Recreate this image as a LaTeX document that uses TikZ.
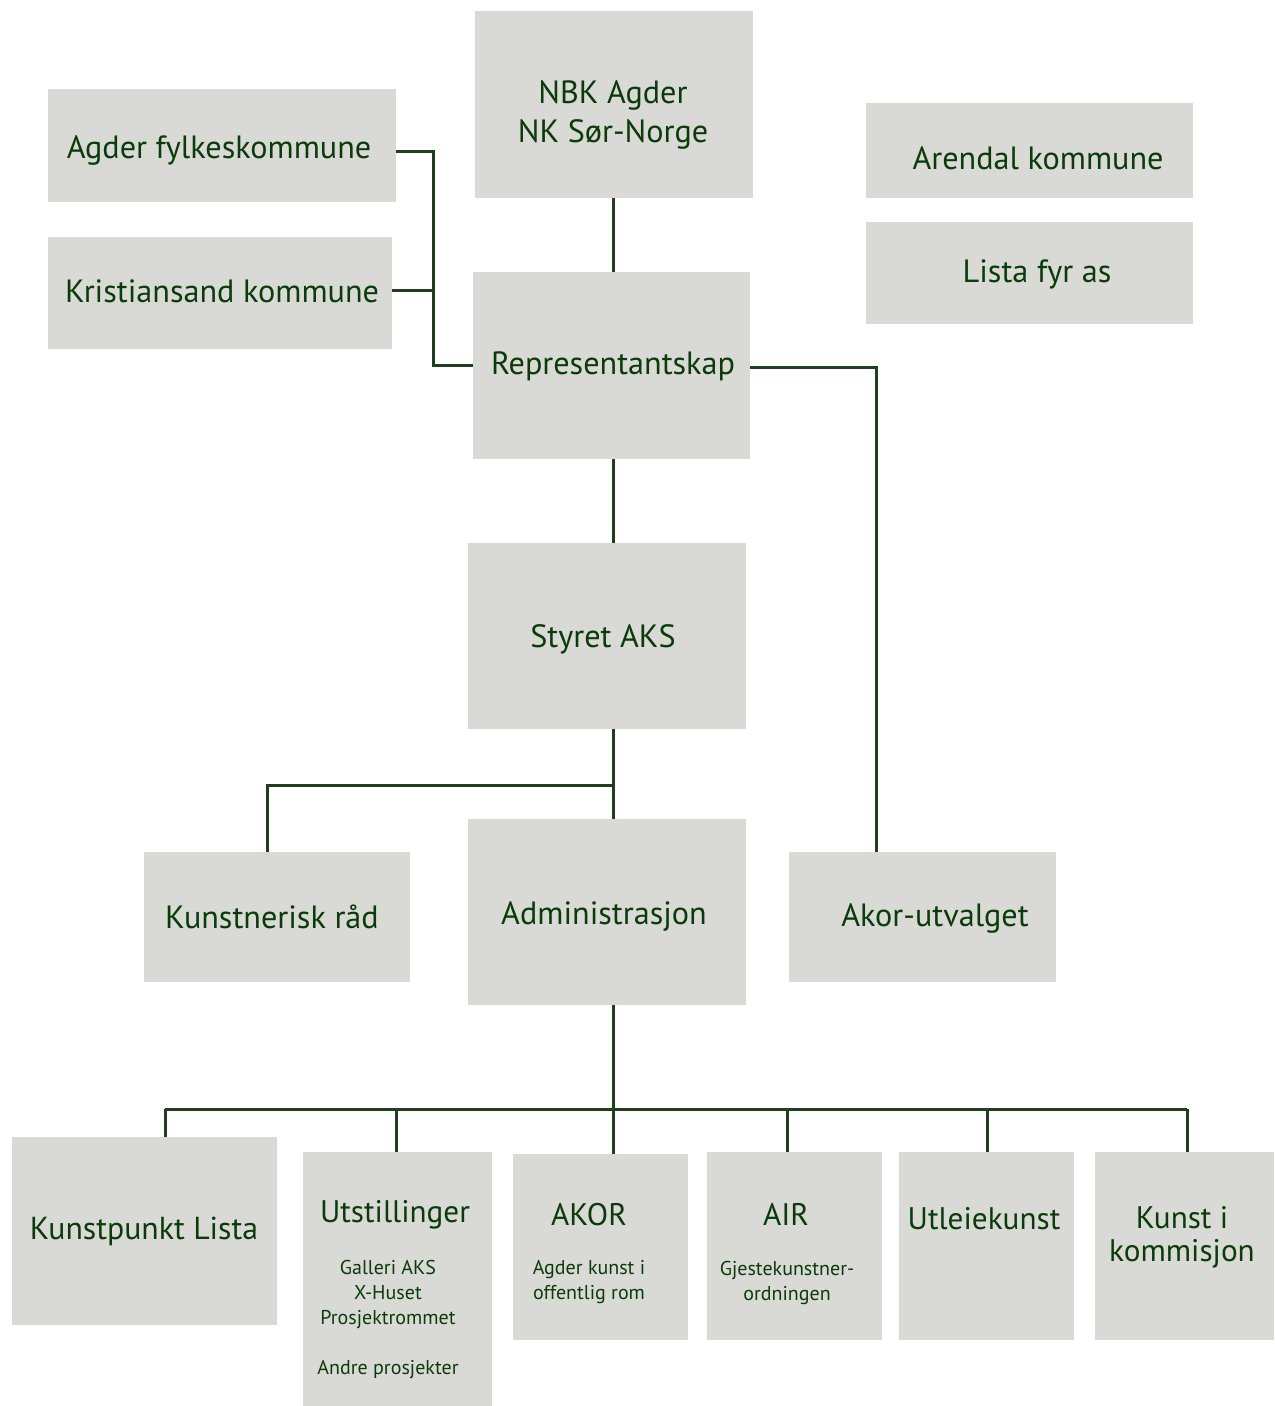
\documentclass[tikz,border=0pt]{standalone}
\usepackage{fontspec}
\setmainfont{PT Sans}
\definecolor{boxgray}{HTML}{D9DAD5}
\definecolor{txtgreen}{HTML}{0B3B0B}
\definecolor{linegreen}{HTML}{1F3F1F}
\tikzset{>=latex}
\tikzset{box/.style={fill=boxgray, inner sep=0pt, outer sep=0pt},
  link/.style={color=linegreen, line width=1.5pt},
  lbl/.style={text=txtgreen, font=\fontsize{16.1}{19.5}\selectfont, align=center, yshift=-1.75pt},
  title/.style={text=txtgreen, font=\fontsize{15.6}{16.5}\selectfont, align=center, yshift=-0.75pt},
  sub/.style={text=txtgreen, font=\fontsize{10}{12.5}\selectfont, align=center, yshift=-1pt}}

\begin{document}
\begin{tikzpicture}[x=0.5pt,y=-0.5pt]
\useasboundingbox (0,0) rectangle (1274,1406);

\node[box, minimum width=139pt, minimum height=93.5pt] (nbk) at (614,104.5) {};
\node[box, minimum width=174pt, minimum height=56.5pt] (agder) at (222,145.5) {};
\node[box, minimum width=172pt, minimum height=56pt] (krist) at (220,293) {};
\node[box, minimum width=163.5pt, minimum height=47.5pt] (arendal) at (1029.5,150.5) {};
\node[box, minimum width=163.5pt, minimum height=51pt] (lista) at (1029.5,273) {};
\node[box, minimum width=138.5pt, minimum height=93.5pt] (rep) at (611.5,365.5) {};
\node[box, minimum width=139pt, minimum height=93pt] (styret) at (607,636) {};
\node[box, minimum width=133pt, minimum height=65pt] (kunstner) at (277,917) {};
\node[box, minimum width=139pt, minimum height=93pt] (admin) at (607,912) {};
\node[box, minimum width=133.5pt, minimum height=65pt] (akorutv) at (922.5,917) {};

\node[box, minimum width=132.5pt, minimum height=94pt] (kpl) at (144.5,1231) {};
\node[box, minimum width=94.5pt, minimum height=127pt] (utst) at (397.5,1279) {};
\node[box, minimum width=87.5pt, minimum height=93pt] (akor) at (600.5,1247) {};
\node[box, minimum width=87.5pt, minimum height=94pt] (air) at (794.5,1246) {};
\node[box, minimum width=87.5pt, minimum height=94pt] (utl) at (986.5,1246) {};
\node[box, minimum width=89.5pt, minimum height=94pt] (kik) at (1184.5,1246) {};

% connectors
\coordinate (jw) at (433,365.5);
\coordinate (je) at (876,852);
\coordinate (js) at (613,785);
\coordinate (bus) at (613,1109);

\draw[link] ([xshift=-0.5pt]nbk.south) -- ([xshift=-0.5pt]nbk.south |- rep.north);
\draw[link] ([yshift=-3pt]agder.east) -| (jw) -- (rep.west);
\draw[link] ([yshift=1pt]krist.east) -- ([yshift=1pt]krist.east -| jw);
\draw[link] ([yshift=-1pt]rep.east) -| (je);
\draw[link] ([xshift=0.75pt]rep.south) -- ([xshift=0.75pt]rep.south |- styret.north);
\draw[link] ([xshift=3pt]styret.south) -- ([xshift=3pt]admin.north);
\draw[link] (js) -| ([xshift=-5pt]kunstner.north);
\draw[link] ([xshift=3pt]admin.south) -- ([xshift=3pt]admin.south |- akor.north);
\draw[link] ([xshift=10.25pt]kpl.north |- bus) -- ([xshift=1.25pt]kik.north |- bus);
\foreach \n/\dx in {kpl/10.25, utst/-0.75, air/-3.75, utl/0.25, kik/1.25}
  \draw[link] ([xshift=\dx pt]\n.north) -- ([xshift=\dx pt]\n.north |- bus);

% labels
\node[lbl] (tnbk) at (613,111.5) {NBK Agder\\NK Sør-Norge};
\node[lbl] (tagder) at (219,147) {Agder fylkeskommune};
\node[lbl] (tkrist) at (222,288) {Kristiansand kommune};
\node[lbl] (tarendal) at (1038,155) {Arendal kommune};
\node[lbl] (tlista) at (1037,271) {Lista fyr as};
\node[lbl] (trep) at (613,363) {Representantskap};
\node[lbl] (tstyret) at (603,636) {Styret AKS};
\node[lbl] (tkunstner) at (272,913) {Kunstnerisk råd};
\node[lbl] (tadmin) at (604,913) {Administrasjon};
\node[lbl] (takorutv) at (935,915) {Akor-utvalget};

\node[title, font=\fontsize{15.9}{16.5}\selectfont] (tkpl) at (144,1230) {Kunstpunkt Lista};
\node[title] (tutst) at (395,1213) {Utstillinger};
\node[sub] (sutst) at (388,1317.5) {Galleri AKS\\X-Huset\\Prosjektrommet\\[12.5pt]Andre prosjekter};
\node[title] (takor) at (589,1213) {AKOR};
\node[sub] (sakor) at (589,1280) {Agder kunst i\\offentlig rom};
\node[title] (tair) at (786,1213) {AIR};
\node[sub] (sair) at (787,1281) {Gjestekunstner-\\ordningen};
\node[title] (tutl) at (984,1217) {Utleiekunst};
\node[title] (tkik) at (1182,1236) {Kunst i\\kommisjon};

\end{tikzpicture}
\end{document}
